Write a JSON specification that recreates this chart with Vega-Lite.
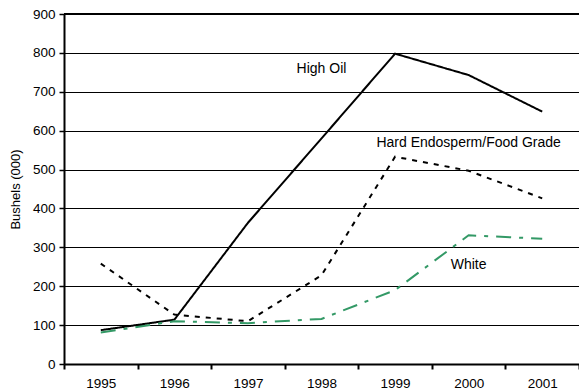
{
  "$schema": "https://vega.github.io/schema/vega-lite/v6.json",
  "width": 515,
  "height": 350,
  "autosize": "none",
  "padding": {"left": 64, "top": 14, "right": 0, "bottom": 26},
  "background": "white",
  "config": {
    "font": "Liberation Sans",
    "view": {"stroke": null},
    "axis": {
      "labelFont": "Liberation Sans",
      "labelFontSize": 13.5,
      "labelColor": "#000000",
      "labelOverlap": false,
      "titleFont": "Liberation Sans",
      "titleFontWeight": "normal",
      "titleFontSize": 13,
      "titleColor": "#000000",
      "domainColor": "#000000",
      "domainWidth": 2,
      "tickColor": "#000000",
      "tickWidth": 2,
      "tickSize": 5
    },
    "axisY": {
      "title": "Bushels (000)",
      "values": [0, 100, 200, 300, 400, 500, 600, 700, 800, 900],
      "grid": true,
      "gridColor": "#000000",
      "gridWidth": 1,
      "gridOpacity": 1,
      "tickWidth": 1.5,
      "labelPadding": 4,
      "titlePadding": 10
    }
  },
  "datasets": {
    "series": [
      {"year": "1995", "crop": "High Oil", "bushels": 87},
      {"year": "1996", "crop": "High Oil", "bushels": 114},
      {"year": "1997", "crop": "High Oil", "bushels": 363},
      {"year": "1998", "crop": "High Oil", "bushels": 580},
      {"year": "1999", "crop": "High Oil", "bushels": 798},
      {"year": "2000", "crop": "High Oil", "bushels": 743},
      {"year": "2001", "crop": "High Oil", "bushels": 649},
      {"year": "1995", "crop": "Hard Endosperm/Food Grade", "bushels": 258},
      {"year": "1996", "crop": "Hard Endosperm/Food Grade", "bushels": 127},
      {"year": "1997", "crop": "Hard Endosperm/Food Grade", "bushels": 110},
      {"year": "1998", "crop": "Hard Endosperm/Food Grade", "bushels": 228},
      {"year": "1999", "crop": "Hard Endosperm/Food Grade", "bushels": 533},
      {"year": "2000", "crop": "Hard Endosperm/Food Grade", "bushels": 497},
      {"year": "2001", "crop": "Hard Endosperm/Food Grade", "bushels": 426},
      {"year": "1995", "crop": "White", "bushels": 81},
      {"year": "1996", "crop": "White", "bushels": 110},
      {"year": "1997", "crop": "White", "bushels": 105},
      {"year": "1998", "crop": "White", "bushels": 116},
      {"year": "1999", "crop": "White", "bushels": 190},
      {"year": "2000", "crop": "White", "bushels": 331},
      {"year": "2001", "crop": "White", "bushels": 322}
    ],
    "labels": [
      {"year": "1998", "bushels": 758, "text": "High Oil"},
      {"year": "2000", "bushels": 568, "text": "Hard Endosperm/Food Grade"},
      {"year": "2000", "bushels": 254, "text": "White"}
    ],
    "frame": [{"bushels": 900}]
  },
  "layer": [
    {
      "data": {"name": "series"},
      "mark": {"type": "line", "strokeWidth": 2, "interpolate": "linear"},
      "encoding": {
        "x": {
          "field": "year",
          "type": "ordinal",
          "scale": {"paddingInner": 0, "paddingOuter": 0},
          "axis": {"title": null, "labelAngle": 0, "tickBand": "extent", "labelPadding": 7, "grid": false}
        },
        "y": {
          "field": "bushels",
          "type": "quantitative",
          "scale": {"domain": [0, 900], "nice": false},
          "axis": {"title": "Bushels (000)"}
        },
        "color": {
          "field": "crop",
          "type": "nominal",
          "legend": null,
          "scale": {
            "domain": ["High Oil", "Hard Endosperm/Food Grade", "White"],
            "range": ["#000000", "#000000", "#339966"]
          }
        },
        "strokeDash": {
          "field": "crop",
          "type": "nominal",
          "legend": null,
          "scale": {
            "domain": ["High Oil", "Hard Endosperm/Food Grade", "White"],
            "range": [[1, 0], [5, 6], [15, 8, 4, 8]]
          }
        }
      }
    },
    {
      "data": {"name": "frame"},
      "mark": {"type": "rule", "color": "#000000", "strokeWidth": 2},
      "encoding": {"y": {"field": "bushels", "type": "quantitative"}}
    },
    {
      "data": {"name": "labels"},
      "mark": {"type": "text", "font": "Liberation Sans", "fontSize": 14, "color": "#000000", "align": "center", "baseline": "middle"},
      "encoding": {
        "x": {"field": "year", "type": "ordinal"},
        "y": {"field": "bushels", "type": "quantitative"},
        "text": {"field": "text"}
      }
    }
  ]
}
